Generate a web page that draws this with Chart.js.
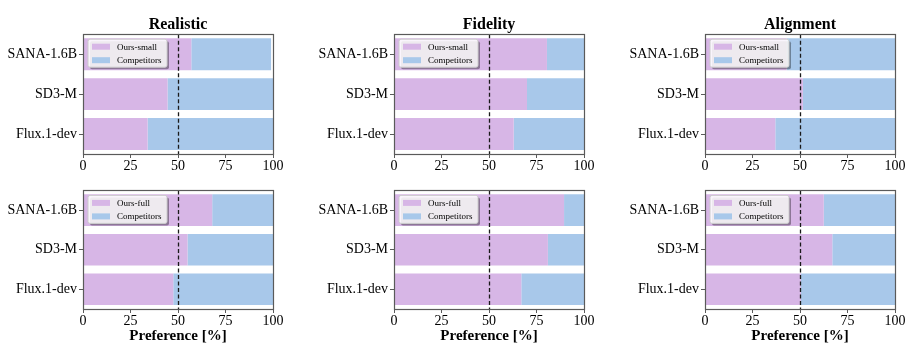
<!DOCTYPE html>
<html lang="en">
<head>
  <meta charset="UTF-8">
  <title>Preference study</title>
  <script src="https://cdn.jsdelivr.net/npm/chart.js"></script>
  <style>
    body { margin: 0; background: #fff; }
    #wrap { position: relative; width: 914px; height: 359px; overflow: hidden; }
    canvas { position: absolute; }
  </style>
</head>
<body>
  <div id="wrap">
    <canvas id="p0" width="290" height="180" style="left:0px;top:0px"></canvas>
    <canvas id="p1" width="300" height="180" style="left:300px;top:0px"></canvas>
    <canvas id="p2" width="304" height="180" style="left:610px;top:0px"></canvas>
    <canvas id="p3" width="290" height="179" style="left:0px;top:180px"></canvas>
    <canvas id="p4" width="300" height="179" style="left:300px;top:180px"></canvas>
    <canvas id="p5" width="304" height="179" style="left:610px;top:180px"></canvas>
  </div>

  <script>
    // data
    const models = ['SANA-1.6B', 'SD3-M', 'Flux.1-dev'];
    const xTicks = [0, 25, 50, 75, 100];
    const refLine = 50;

    const realisticSmall = [57, 44.5, 34];
    const realisticSmallComp = [42, 55.5, 66];
    const fidelitySmall = [80.5, 70, 63];
    const fidelitySmallComp = [19.5, 30, 37];
    const alignmentSmall = [43, 51.5, 37];
    const alignmentSmallComp = [57, 48.5, 63];

    const realisticFull = [68, 55, 47.5];
    const realisticFullComp = [32, 45, 52.5];
    const fidelityFull = [89.5, 81, 67];
    const fidelityFullComp = [10.5, 19, 33];
    const alignmentFull = [62.5, 67, 50.5];
    const alignmentFullComp = [37.5, 33, 49.5];

    const purple = '#d7b6e6';
    const blue = '#a8c8ea';
    const frameColor = '#5a5a5a';
    const serif = '"Liberation Serif", "DejaVu Serif", serif';

    Chart.defaults.font.family = serif;
    Chart.defaults.color = '#000';

    function roundRectPath(ctx, x, y, w, h, r) {
      ctx.beginPath();
      ctx.moveTo(x + r, y);
      ctx.lineTo(x + w - r, y);
      ctx.quadraticCurveTo(x + w, y, x + w, y + r);
      ctx.lineTo(x + w, y + h - r);
      ctx.quadraticCurveTo(x + w, y + h, x + w - r, y + h);
      ctx.lineTo(x + r, y + h);
      ctx.quadraticCurveTo(x, y + h, x, y + h - r);
      ctx.lineTo(x, y + r);
      ctx.quadraticCurveTo(x, y, x + r, y);
      ctx.closePath();
    }

    // dashed 50% line, axes frame and the inset legend
    const decorPlugin = {
      id: 'decor',
      afterDatasetsDraw(chart) {
        const ctx = chart.ctx;
        const a = chart.chartArea;
        const xs = chart.scales.x;
        ctx.save();

        const x50 = Math.round(xs.getPixelForValue(refLine)) + 0.5;
        ctx.strokeStyle = '#1a1a1a';
        ctx.lineWidth = 1.3;
        ctx.setLineDash([4, 2.5]);
        ctx.beginPath();
        ctx.moveTo(x50, a.top);
        ctx.lineTo(x50, a.bottom);
        ctx.stroke();
        ctx.setLineDash([]);

        ctx.strokeStyle = frameColor;
        ctx.lineWidth = 1.2;
        ctx.strokeRect(Math.round(a.left) + 0.5, Math.round(a.top) + 0.5,
          Math.round(a.right - a.left), Math.round(a.bottom - a.top));

        const lx = a.left + 5, ly = a.top + 5, lw = 79, lh = 28;
        ctx.fillStyle = 'rgba(0,0,0,0.35)';
        roundRectPath(ctx, lx + 2, ly + 2, lw, lh, 2);
        ctx.fill();
        ctx.fillStyle = 'rgba(255,255,255,0.85)';
        roundRectPath(ctx, lx, ly, lw, lh, 2);
        ctx.fill();
        ctx.strokeStyle = '#cccccc';
        ctx.lineWidth = 1;
        ctx.stroke();

        ctx.font = '9px ' + serif;
        ctx.textBaseline = 'middle';
        ctx.textAlign = 'left';
        chart.data.datasets.forEach((ds, i) => {
          const cy = ly + 7.5 + i * 13.5;
          ctx.fillStyle = ds.backgroundColor;
          ctx.fillRect(lx + 4, cy - 3, 18, 6);
          ctx.fillStyle = '#000';
          ctx.fillText(ds.label, lx + 29, cy + 0.5);
        });
        ctx.restore();
      }
    };

    function makePanel(id, p) {
      return new Chart(document.getElementById(id), {
        type: 'bar',
        data: {
          labels: models,
          datasets: [
            { label: p.oursLabel, data: p.ours, backgroundColor: purple },
            { label: 'Competitors', data: p.comp, backgroundColor: blue }
          ]
        },
        options: {
          indexAxis: 'y',
          responsive: false,
          animation: false,
          events: [],
          datasets: { bar: { barPercentage: 0.8, categoryPercentage: 1, borderWidth: 0 } },
          layout: { padding: { top: p.padTop, right: p.padRight, left: 0, bottom: 0 } },
          plugins: {
            legend: { display: false },
            tooltip: { enabled: false },
            title: {
              display: !!p.title,
              text: p.title,
              fullSize: false,
              color: '#000',
              font: { size: 16, weight: 'bold' },
              padding: { top: 15, bottom: 0 }
            }
          },
          scales: {
            x: {
              stacked: true,
              min: 0,
              max: 100,
              afterBuildTicks: s => { s.ticks = xTicks.map(v => ({ value: v })); },
              afterFit: s => { s.height = p.xHeight; },
              grid: { display: true, drawOnChartArea: false, drawTicks: true, tickLength: 4, color: frameColor },
              border: { display: false },
              ticks: { padding: 0, color: '#000', font: { size: 14 }, maxRotation: 0 },
              title: {
                display: p.xTitle,
                text: 'Preference [%]',
                color: '#000',
                font: { size: 15, weight: 'bold' },
                padding: { top: 0, bottom: 14 }
              }
            },
            y: {
              stacked: true,
              afterFit: s => { s.width = p.yWidth; },
              grid: { display: true, drawOnChartArea: false, drawTicks: true, tickLength: 4, color: frameColor, offset: false },
              border: { display: false },
              ticks: { padding: 2, color: '#000', font: { size: 14 } }
            }
          }
        },
        plugins: [decorPlugin]
      });
    }

    makePanel('p0', { title: 'Realistic', oursLabel: 'Ours-small', ours: realisticSmall, comp: realisticSmallComp,
      yWidth: 83, padRight: 17, padTop: 0, xHeight: 26, xTitle: false });
    makePanel('p1', { title: 'Fidelity', oursLabel: 'Ours-small', ours: fidelitySmall, comp: fidelitySmallComp,
      yWidth: 94, padRight: 16, padTop: 0, xHeight: 26, xTitle: false });
    makePanel('p2', { title: 'Alignment', oursLabel: 'Ours-small', ours: alignmentSmall, comp: alignmentSmallComp,
      yWidth: 95, padRight: 19, padTop: 0, xHeight: 26, xTitle: false });

    makePanel('p3', { title: '', oursLabel: 'Ours-full', ours: realisticFull, comp: realisticFullComp,
      yWidth: 83, padRight: 17, padTop: 8, xHeight: 50, xTitle: true });
    makePanel('p4', { title: '', oursLabel: 'Ours-full', ours: fidelityFull, comp: fidelityFullComp,
      yWidth: 94, padRight: 16, padTop: 8, xHeight: 50, xTitle: true });
    makePanel('p5', { title: '', oursLabel: 'Ours-full', ours: alignmentFull, comp: alignmentFullComp,
      yWidth: 95, padRight: 19, padTop: 8, xHeight: 50, xTitle: true });
  </script>
</body>
</html>
